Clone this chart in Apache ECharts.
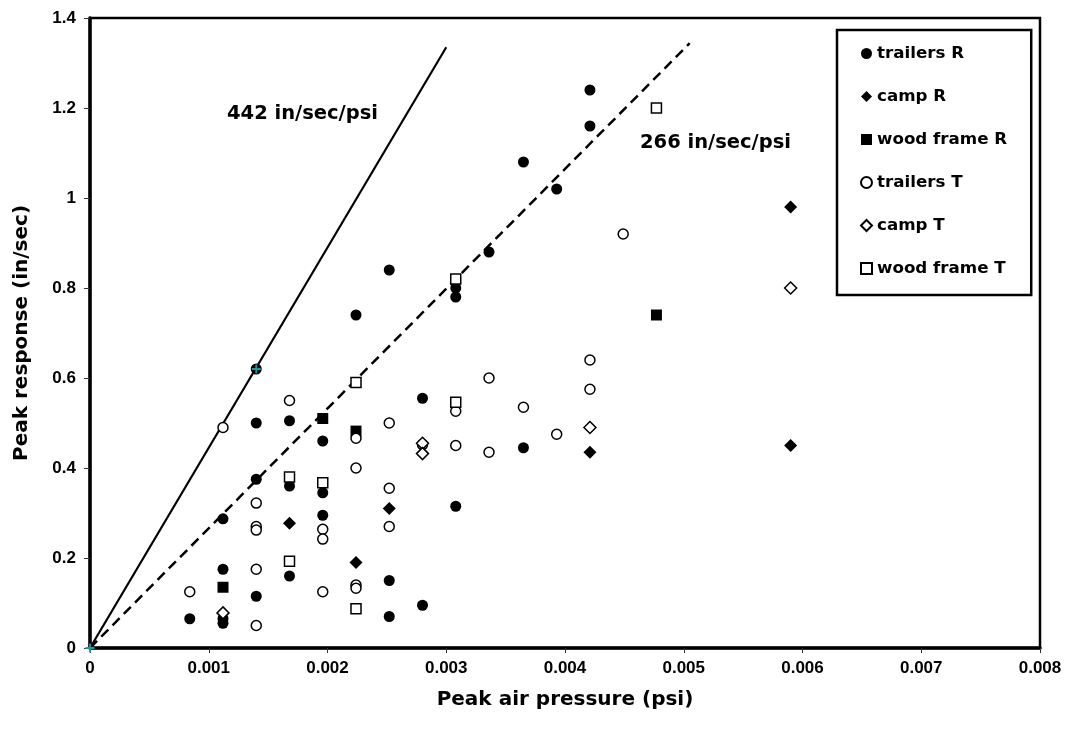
<!DOCTYPE html>
<html>
<head>
<meta charset="utf-8">
<script src="https://cdn.jsdelivr.net/npm/echarts@6/dist/echarts.min.js"></script>
<style>
html,body{margin:0;padding:0;background:#fff;}
#chart{width:1074px;height:734px;}
</style>
</head>
<body>
<div id="chart"></div>
<script>
// ---- data ----
const xTickLabels = ['0','0.001','0.002','0.003','0.004','0.005','0.006','0.007','0.008'];
const yTickLabels = ['0','0.2','0.4','0.6','0.8','1','1.2','1.4'];
const seriesNames = ['trailers R','camp R','wood frame R','trailers T','camp T','wood frame T'];

const trailersR = [
  [0.00084,0.065],[0.00112,0.287],[0.00112,0.175],[0.00112,0.065],[0.00112,0.055],
  [0.0014,0.62],[0.0014,0.50],[0.0014,0.375],[0.0014,0.115],
  [0.00168,0.505],[0.00168,0.36],[0.00168,0.16],
  [0.00196,0.46],[0.00196,0.345],[0.00196,0.295],
  [0.00224,0.74],[0.00252,0.84],[0.00252,0.15],[0.00252,0.07],
  [0.0028,0.555],[0.0028,0.095],
  [0.00308,0.80],[0.00308,0.78],[0.00308,0.315],
  [0.00336,0.88],[0.00365,1.08],[0.00365,0.445],[0.00393,1.02],
  [0.00421,1.24],[0.00421,1.16]
];
const campR = [[0.00168,0.277],[0.00224,0.19],[0.00252,0.31],[0.00421,0.435],[0.0059,0.98],[0.0059,0.45]];
const woodFrameR = [[0.00112,0.135],[0.00196,0.51],[0.00224,0.482],[0.00477,0.74]];
const trailersT = [
  [0.00084,0.125],[0.00112,0.49],
  [0.0014,0.322],[0.0014,0.27],[0.0014,0.262],[0.0014,0.175],[0.0014,0.05],
  [0.00168,0.55],
  [0.00196,0.264],[0.00196,0.242],[0.00196,0.125],
  [0.00224,0.466],[0.00224,0.40],[0.00224,0.14],[0.00224,0.133],
  [0.00252,0.50],[0.00252,0.355],[0.00252,0.27],
  [0.0028,0.452],[0.00308,0.526],[0.00308,0.45],
  [0.00336,0.60],[0.00336,0.435],[0.00365,0.535],[0.00393,0.475],
  [0.00421,0.64],[0.00421,0.575],[0.00449,0.92]
];
const campT = [[0.00112,0.078],[0.0028,0.455],[0.0028,0.432],[0.00421,0.49],[0.0059,0.80]];
const woodFrameT = [[0.00168,0.38],[0.00168,0.193],[0.00196,0.367],[0.00224,0.59],[0.00224,0.087],[0.00308,0.82],[0.00308,0.546],[0.00477,1.20]];

const line442 = [[0,0],[0.003,1.335]];
const line266 = [[0,0],[0.00505,1.344]];
const fitPoints = [[0,0],[0.0014,0.62]];
const annotations = ['442 in/sec/psi','266 in/sec/psi'];

// ---- chart ----
const FONT = "'DejaVu Sans', sans-serif";
const TICKFONT = "'Liberation Sans', Arial, sans-serif";
const chart = echarts.init(document.getElementById('chart'), null, {renderer:'canvas'});

function scatter(name, data, symbol, size, filled){
  return {
    name: name, type:'scatter', data: data, symbol: symbol, symbolSize: size,
    itemStyle: filled ? {color:'#000', borderWidth:0, opacity:1}
                      : {color:'#fff', borderColor:'#000', borderWidth:1.5, opacity:1},
    emphasis:{disabled:true}, z:3
  };
}

const option = {
  animation:false,
  backgroundColor:'#fff',
  grid:{left:90, top:18, right:34, bottom:86, show:true, borderColor:'#000', borderWidth:2.5, containLabel:false},
  xAxis:{
    type:'value', min:0, max:0.008, interval:0.001,
    name:'Peak air pressure (psi)', nameLocation:'middle', nameGap:42,
    nameTextStyle:{fontFamily:FONT, fontWeight:'bold', fontSize:20, color:'#000'},
    axisLine:{show:true, onZero:false, lineStyle:{color:'#000', width:3.5}},
    axisTick:{show:true, length:5, lineStyle:{color:'#333', width:1}},
    axisLabel:{margin:12, fontFamily:TICKFONT, fontWeight:'bold', fontSize:17, color:'#000',
      formatter:(v)=>xTickLabels[Math.round(v/0.001)]},
    splitLine:{show:false}
  },
  yAxis:{
    type:'value', min:0, max:1.4, interval:0.2,
    name:'Peak response (in/sec)', nameLocation:'middle', nameGap:58,
    nameTextStyle:{fontFamily:FONT, fontWeight:'bold', fontSize:20, color:'#000'},
    axisLine:{show:true, onZero:false, lineStyle:{color:'#000', width:3.5}},
    axisTick:{show:true, length:6, lineStyle:{color:'#333', width:1}},
    axisLabel:{margin:14, fontFamily:TICKFONT, fontWeight:'bold', fontSize:17, color:'#000',
      formatter:(v)=>yTickLabels[Math.round(v/0.2)]},
    splitLine:{show:false}
  },
  legend:{
    orient:'vertical', left:837, top:30,
    padding:[15,24,18,23], itemGap:26, itemWidth:11, itemHeight:11,
    borderColor:'#000', borderWidth:2.5, backgroundColor:'#fff',
    textStyle:{fontFamily:FONT, fontWeight:'bold', fontSize:16.7, color:'#000', lineHeight:16},
    data: seriesNames,
    selectedMode:false
  },
  series:[
    {name:'fit442', type:'line', data:line442, symbol:'none', lineStyle:{color:'#000', width:2.2, opacity:1}, z:2, silent:true},
    {name:'fit266', type:'line', data:line266, symbol:'none', lineStyle:{color:'#000', width:2.5, type:[10,6], opacity:1}, z:2, silent:true},
    scatter(seriesNames[0], trailersR, 'circle', 11, true),
    scatter(seriesNames[1], campR, 'diamond', 13, true),
    scatter(seriesNames[2], woodFrameR, 'rect', 11, true),
    scatter(seriesNames[3], trailersT, 'circle', 10, false),
    scatter(seriesNames[4], campT, 'diamond', 12, false),
    scatter(seriesNames[5], woodFrameT, 'rect', 10, false),
    {name:'fitpts', type:'scatter', data:fitPoints,
     symbol:'path://M4,0H6V4H10V6H6V10H4V6H0V4H4Z', symbolSize:9,
     itemStyle:{color:'#1f9a9a', opacity:1}, z:4, silent:true}
  ],
  graphic:[
    {type:'text', left:227, top:104, z:10,
     style:{text:annotations[0], font:"bold 19.5px 'DejaVu Sans', sans-serif", fill:'#000'}},
    {type:'text', left:640, top:133, z:10,
     style:{text:annotations[1], font:"bold 19.5px 'DejaVu Sans', sans-serif", fill:'#000'}}
  ]
};
chart.setOption(option);
</script>
</body>
</html>
